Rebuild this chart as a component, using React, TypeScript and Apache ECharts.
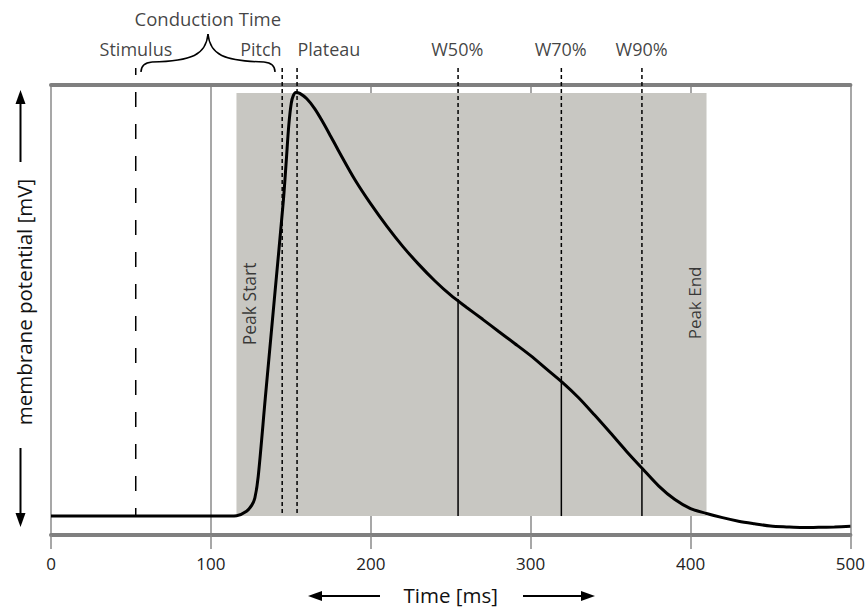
import React, { useEffect, useRef } from "react";
import * as echarts from "echarts";

// ---- data ----
const timeMs = [0, 50, 100, 112, 116.1, 122.3, 125.6, 127.5, 129.6, 134.0, 139.7, 145.4, 147.2, 148.75, 150.3, 151.6, 153.1, 155.6, 160, 165, 170, 175, 180, 190, 200, 210, 220, 230, 240, 250, 260, 270, 280, 290, 300, 310, 320, 330, 340, 350, 360, 370, 380, 390, 400, 410, 420, 430, 440, 450, 460, 470, 480, 490, 500];
const potentialMv = [-89.1, -89.1, -89.1, -89.1, -89.0, -87.6, -85.7, -83.5, -76.8, -52.6, -21.6, 9.4, 21.8, 32.6, 39.4, 41.75, 42.7, 42.4, 40.7, 37.6, 33.5, 29.0, 24.4, 15.6, 8.0, 1.1, -5.2, -10.8, -15.9, -20.4, -24.2, -27.9, -31.7, -35.4, -39.2, -43.4, -47.6, -52.3, -57.7, -63.3, -69.0, -74.4, -79.7, -83.9, -86.8, -88.3, -89.6, -90.7, -91.5, -92.2, -92.5, -92.7, -92.6, -92.5, -92.3];
const xTicks = [0, 100, 200, 300, 400, 500];

const yMin = -95;
const yMax = 45;
const baseMv = -89.1;
const peakWindow = [116, 410];
const peakWindowTopMv = 42.5;
const markerTopMv = 50.3;

const stimulusMs = 53;
const pitchMs = 144.6;
const plateauMs = 153.9;
const widthNames = ["W50%", "W70%", "W90%"];
const widthMs = [254.6, 319.2, 369.6];
const widthMv = [-22.2, -47.3, -74.2];

const labelNames = ["Conduction Time", "Stimulus", "Pitch", "Plateau", "W50%", "W70%", "W90%", "Peak Start", "Peak End"];
const labelMs = [98.1, 53.1, 131.3, 173.8, 254.1, 318.8, 369.4, 123.8, 402.5];
const labelMv = [65.75, 56.15, 56.15, 56.15, 56.15, 56.15, 56.15, -23.1, -22.8];
const labelRotate = [0, 0, 0, 0, 0, 0, 0, 90, 90];
const labelSize = [18.5, 18, 18, 18, 18, 18, 18, 17.5, 17];

const FONT = "'Open Sans', Lato, sans-serif";

function vLine(t: number, from: number, to: number, style: any, z = 4) {
  return {
    type: "line",
    data: [[t, from], [t, to]],
    symbol: "none",
    clip: false,
    silent: true,
    z,
    lineStyle: style,
  };
}

function arrow(x1: number, y1: number, x2: number, y2: number) {
  const dx = x2 - x1, dy = y2 - y1;
  const len = Math.hypot(dx, dy);
  const ux = dx / len, uy = dy / len;
  const hl = 14, hw = 5;
  const bx = x2 - ux * hl, by = y2 - uy * hl;
  return [
    { type: "line", shape: { x1, y1, x2: bx, y2: by }, style: { stroke: "#000", lineWidth: 2 } },
    {
      type: "polygon",
      shape: { points: [[x2, y2], [bx - uy * hw, by + ux * hw], [bx + uy * hw, by - ux * hw]] },
      style: { fill: "#000" },
    },
  ];
}

export default function App() {
  const ref = useRef<HTMLDivElement>(null);
  useEffect(() => {
    if (!ref.current) return;
    const chart = echarts.init(ref.current, null, { renderer: "svg" });
    const dotted = { color: "#000", width: 1.5, type: [4, 3] };
    const series: any[] = [
      {
        type: "line",
        data: [],
        silent: true,
        z: 1,
        markArea: {
          silent: true,
          itemStyle: { color: "#c8c7c2", opacity: 1 },
          data: [[{ coord: [peakWindow[0], baseMv] }, { coord: [peakWindow[1], peakWindowTopMv] }]],
        },
      },
      vLine(stimulusMs, markerTopMv, baseMv, { color: "#000", width: 1.5, type: [15, 17], dashOffset: 8 }),
      vLine(pitchMs, markerTopMv, baseMv, dotted),
      vLine(plateauMs, markerTopMv, baseMv, dotted),
    ];
    widthMs.forEach((t, i) => {
      series.push(vLine(t, markerTopMv, widthMv[i], dotted));
      series.push(vLine(t, widthMv[i], baseMv, { color: "#000", width: 1.5, type: "solid" }));
    });
    series.push({
      type: "line",
      name: "membrane potential",
      data: timeMs.map((t, i) => [t, potentialMv[i]]),
      symbol: "none",
      smooth: 0.3,
      z: 6,
      lineStyle: { color: "#000", width: 3 },
    });
    series.push({
      type: "scatter",
      symbolSize: 1,
      clip: false,
      silent: true,
      z: 10,
      itemStyle: { color: "rgba(0,0,0,0)" },
      label: { show: true, position: "inside", formatter: "{b}", fontSize: 18, color: "#111", fontFamily: FONT },
      data: labelNames.map((n, i) => ({
        name: n,
        value: [labelMs[i], labelMv[i]],
        label: { rotate: labelRotate[i], fontSize: labelSize[i] },
      })),
    });

    const brace = { stroke: "#000", lineWidth: 1.5, fill: null };
    const graphic: any[] = [
      // brace for conduction time
      { type: "bezierCurve", shape: { x1: 141, y1: 72, x2: 152, y2: 62, cpx1: 141, cpy1: 63 }, style: brace },
      { type: "bezierCurve", shape: { x1: 152, y1: 62, x2: 208, y2: 34, cpx1: 192, cpy1: 61, cpx2: 206, cpy2: 55 }, style: brace },
      { type: "bezierCurve", shape: { x1: 264, y1: 62, x2: 208, y2: 34, cpx1: 224, cpy1: 61, cpx2: 210, cpy2: 55 }, style: brace },
      { type: "bezierCurve", shape: { x1: 275, y1: 72, x2: 264, y2: 62, cpx1: 275, cpy1: 63 }, style: brace },
      ...arrow(20.5, 162, 20.5, 90),
      ...arrow(20.5, 448, 20.5, 527),
      ...arrow(380, 596, 308, 596),
      ...arrow(523, 596, 595, 596),
    ];

    chart.setOption({
      animation: false,
      grid: { left: 51, right: 17, top: 85, bottom: 73 },
      xAxis: [
        {
          type: "value",
          min: xTicks[0],
          max: xTicks[xTicks.length - 1],
          interval: 100,
          position: "bottom",
          axisLine: { show: true, onZero: false, lineStyle: { color: "#7f7f7f", width: 4 } },
          axisTick: { show: true, length: 14, lineStyle: { color: "#8a8a8a", width: 1.5 } },
          axisLabel: { show: true, margin: 20, fontSize: 17, color: "#222", fontFamily: FONT },
          splitLine: { show: true, lineStyle: { color: "#8a8a8a", width: 1.5 } },
          name: "Time [ms]",
          nameLocation: "middle",
          nameGap: 49,
          nameTextStyle: { fontSize: 20.5, color: "#111", fontFamily: FONT },
        },
        {
          type: "value",
          min: xTicks[0],
          max: xTicks[xTicks.length - 1],
          position: "top",
          axisLine: { show: true, onZero: false, lineStyle: { color: "#7f7f7f", width: 4 } },
          axisTick: { show: false },
          axisLabel: { show: false },
          splitLine: { show: false },
        },
      ],
      yAxis: {
        type: "value",
        min: yMin,
        max: yMax,
        axisLine: { show: false },
        axisTick: { show: false },
        axisLabel: { show: false },
        splitLine: { show: false },
        name: "membrane potential [mV]",
        nameLocation: "middle",
        nameRotate: 90,
        nameGap: 17,
        nameTextStyle: { fontSize: 20.5, color: "#111", fontFamily: FONT, padding: [0, 0, 0, 16] },
      },
      series,
      graphic,
    });
    return () => chart.dispose();
  }, []);
  return <div ref={ref} style={{ position: "absolute", left: 0, top: 0, width: 868, height: 610 }} />;
}
